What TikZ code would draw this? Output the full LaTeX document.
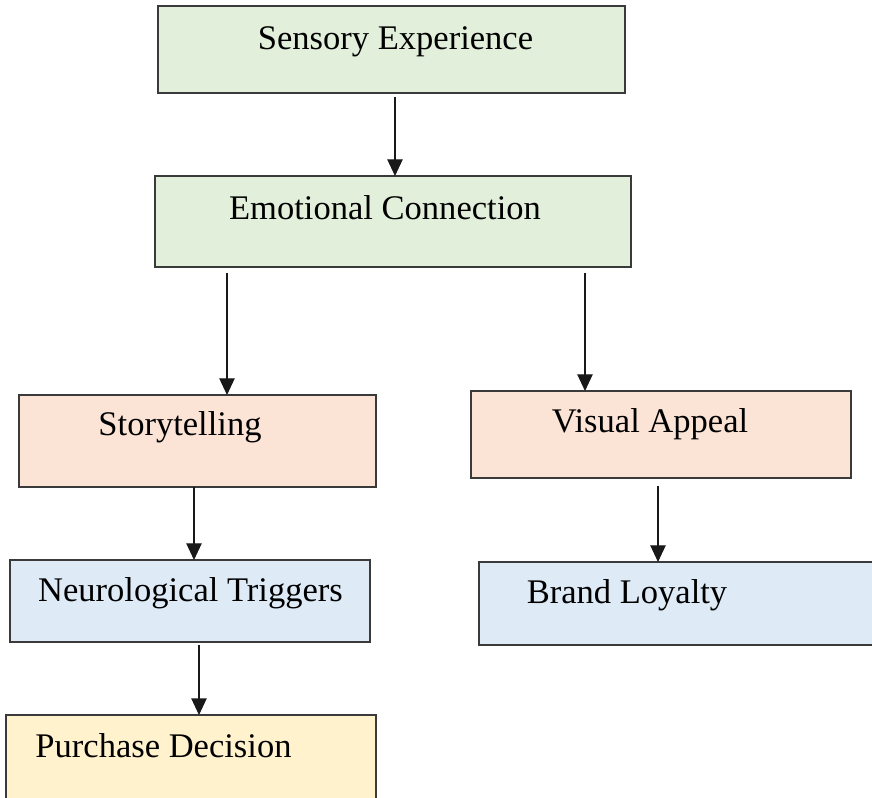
\documentclass[tikz,border=0pt]{standalone}
\usepackage{fontspec}
\setmainfont{Liberation Serif}
\usetikzlibrary{arrows.meta}
\definecolor{bgreen}{HTML}{E2EFDA}
\definecolor{bpeach}{HTML}{FBE4D5}
\definecolor{bblue}{HTML}{DEEBF7}
\definecolor{byellow}{HTML}{FFF2CC}
\definecolor{edge}{HTML}{3A3A3A}
\tikzset{
  box/.style={draw=edge, line width=0.9pt, inner sep=0pt, outer sep=0pt, rectangle},
  lbl/.style={inner sep=0pt, anchor=base, font=\fontsize{25.9}{30}\selectfont, text=black},
  arr/.style={draw=black!90, line width=1pt, -{Triangle[length=12.5pt,width=11.5pt]}, shorten <=3pt}
}
\begin{document}
\begin{tikzpicture}[x=0.75pt,y=-0.75pt]
\useasboundingbox (0,0) rectangle (872,798);
\clip (0,0) rectangle (872,798);
\fill[white] (0,0) rectangle (872,798);
% boxes
\node[box, fill=bgreen, minimum width=350.25pt, minimum height=65.25pt] (se) at (391.5,49.5) {};
\node[box, fill=bgreen, minimum width=357pt, minimum height=68.25pt] (ec) at (393,221.5) {};
\node[box, fill=bpeach, minimum width=267.75pt, minimum height=69pt] (st) at (197.5,441) {};
\node[box, fill=bpeach, minimum width=285pt, minimum height=65.25pt] (va) at (661,434.5) {};
\node[box, fill=bblue, minimum width=270pt, minimum height=61.5pt] (nt) at (190,601) {};
\node[box, fill=bblue, minimum width=300.75pt, minimum height=62.25pt] (bl) at (679.5,603.5) {};
\node[box, fill=byellow, minimum width=277.5pt, minimum height=68.25pt] (pd) at (191,760.5) {};
% labels
\node[lbl] (tse) at (395.5,50) {Sensory Experience};
\node[lbl] (tec) at (385,220) {Emotional Connection};
\node[lbl] (tst) at (180,436) {Storytelling};
\node[lbl] (tva) at (650,433) {Visual Appeal};
\node[lbl] (tnt) at (190.5,602) {Neurological Triggers};
\node[lbl] (tbl) at (627,604) {Brand Loyalty};
\node[lbl] (tpd) at (163.5,757) {Purchase Decision};
% arrow x positions
\coordinate (x1) at (395,0);
\coordinate (x2) at (227,0);
\coordinate (x3) at (585,0);
\coordinate (x4) at (194,0);
\coordinate (x5) at (658,0);
\coordinate (x6) at (199,0);
% connectors
\draw[arr] (se.south -| x1) -- (ec.north -| x1);
\draw[arr, shorten <=4.5pt] (ec.south -| x2) -- (st.north -| x2);
\draw[arr, shorten <=4.5pt] (ec.south -| x3) -- (va.north -| x3);
\draw[arr, shorten <=0pt] (st.south -| x4) -- (nt.north -| x4);
\draw[arr, shorten <=6pt] (va.south -| x5) -- (bl.north -| x5);
\draw[arr, shorten <=2pt] (nt.south -| x6) -- (pd.north -| x6);
\end{tikzpicture}
\end{document}
